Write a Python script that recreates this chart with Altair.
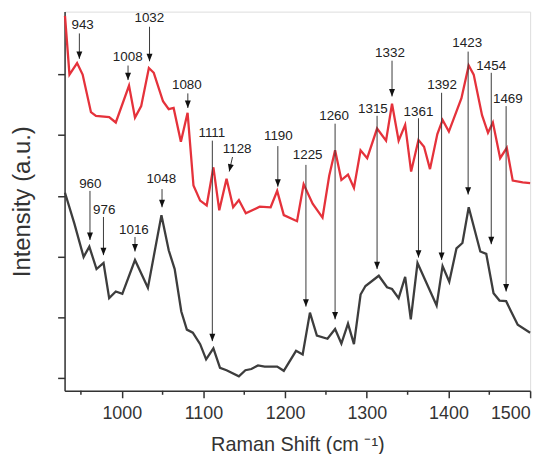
import altair as alt
import pandas as pd

# Red spectrum (top)
red_x = [930.5, 936.0, 945.3, 952.1, 962.3, 968.4, 984.6, 992.7, 1008.9, 1016.2, 1023.8, 1033.2,
         1039.2, 1050.5, 1057.5, 1063.5, 1072.4, 1080.6, 1087.8, 1096.0, 1104.0, 1112.2, 1119.4,
         1128.3, 1136.4, 1143.4, 1151.9, 1168.9, 1182.3, 1190.3, 1198.4, 1214.6, 1222.7, 1233.7,
         1245.8, 1254.0, 1261.2, 1268.9, 1277.0, 1284.3, 1292.4, 1300.5, 1312.6, 1323.6, 1330.9,
         1339.0, 1347.0, 1354.3, 1363.3, 1370.1, 1377.4, 1386.4, 1392.8, 1400.5, 1415.9, 1424.8,
         1430.9, 1441.1, 1448.4, 1454.4, 1463.3, 1471.4, 1478.7, 1490.9, 1500.0]
red_y = [5.97, 5.00, 5.19, 5.00, 4.38, 4.32, 4.30, 4.21, 4.82, 4.29, 4.48, 5.11,
         5.03, 4.56, 4.43, 4.45, 3.89, 4.37, 3.17, 2.92, 2.84, 3.47, 2.76,
         3.28, 2.81, 2.93, 2.71, 2.82, 2.81, 3.08, 2.68, 2.58, 3.19, 2.87,
         2.64, 3.33, 3.75, 3.26, 3.35, 3.13, 3.75, 3.62, 4.11, 3.91, 4.52,
         3.91, 4.17, 3.40, 3.92, 3.81, 3.44, 4.02, 4.25, 4.06, 4.61, 5.15,
         5.00, 4.33, 4.04, 4.21, 3.62, 3.79, 3.25, 3.22, 3.21]

# Dark grey spectrum (bottom)
gray_x = [930.5, 942.0, 953.3, 960.3, 969.1, 977.7, 984.6, 992.7, 1000.7, 1016.2, 1032.0, 1048.6,
          1057.5, 1064.8, 1072.9, 1079.7, 1087.0, 1096.0, 1103.3, 1112.2, 1120.3, 1128.3, 1143.4,
          1151.4, 1158.7, 1166.8, 1175.0, 1190.3, 1198.4, 1213.4, 1221.5, 1230.4, 1238.9, 1251.9,
          1261.2, 1268.9, 1277.0, 1284.3, 1292.4, 1298.4, 1314.7, 1324.8, 1330.9, 1339.0, 1347.0,
          1353.9, 1362.1, 1385.5, 1392.8, 1401.0, 1409.8, 1417.1, 1424.8, 1439.0, 1446.3, 1455.2,
          1462.5, 1470.6, 1476.7, 1484.8, 1500.0]
gray_y = [3.05, 2.54, 1.99, 2.16, 1.79, 1.89, 1.31, 1.42, 1.38, 1.94, 1.48, 2.68,
          2.10, 1.79, 1.09, 0.79, 0.74, 0.55, 0.30, 0.48, 0.16, 0.12, 0.02,
          0.12, 0.14, 0.20, 0.18, 0.18, 0.11, 0.44, 0.38, 1.07, 0.69, 0.64,
          0.80, 0.56, 0.89, 0.55, 1.37, 1.51, 1.68, 1.49, 1.46, 1.31, 1.66,
          0.96, 1.89, 1.19, 1.84, 1.58, 2.13, 2.22, 2.81, 2.08, 2.04, 1.39,
          1.27, 1.26, 1.09, 0.87, 0.74]

# Peak annotations
ann_label = ["943", "1008", "1032", "1080", "1111", "1128", "1190", "1225", "1260", "1315",
             "1332", "1361", "1392", "1423", "1454", "1469", "960", "976", "1016", "1048"]
ann_line_x = [948.1, 1007.7, 1034.0, 1080.9, 1110.9, 1135.6, 1191.1, 1225.5, 1261.2, 1312.6,
              1330.9, 1363.3, 1391.6, 1424.1, 1452.4, 1470.6, 961.1, 977.6, 1016.2, 1049.3]
ann_tip_x = [948.1, 1007.7, 1034.0, 1080.9, 1110.9, 1131.6, 1191.1, 1225.5, 1261.2, 1312.6,
             1330.9, 1363.3, 1391.6, 1424.1, 1452.4, 1470.6, 961.1, 977.6, 1016.2, 1049.3]
ann_text_x = [952.1, 1007.3, 1033.8, 1079.7, 1110.3, 1141.3, 1191.7, 1227.6, 1260.0, 1307.5,
              1328.4, 1363.3, 1392.2, 1423.0, 1452.4, 1472.7, 961.5, 978.5, 1014.9, 1048.4]
ann_text_y = [5.82, 5.29, 5.93, 4.82, 4.04, 3.77, 3.99, 3.67, 4.31, 4.43,
              5.35, 4.38, 4.83, 5.52, 5.15, 4.60, 3.20, 2.76, 2.43, 3.27]
ann_top = [5.68, 5.15, 5.79, 4.69, 3.91, 3.64, 3.82, 3.51, 4.19, 4.32,
           5.23, 4.28, 4.70, 5.38, 5.03, 4.48, 3.08, 2.65, 2.32, 3.11]
ann_tip = [5.26, 4.91, 5.22, 4.45, 0.60, 3.40, 3.15, 1.17, 0.96, 1.79,
           4.64, 1.98, 1.94, 3.02, 2.20, 1.42, 2.27, 2.02, 2.08, 2.81]
ann_angle = [0, 0, 0, 0, 0, 12.7, 0, 0, 0, 0, 0, 0, 0, 0, 0, 0, 0, 0, 0, 0]

major_ticks = [1000, 1100, 1200, 1300, 1400, 1500]
minor_ticks = [950, 1050, 1150, 1250, 1350, 1450]
y_ticks = [0, 1, 2, 3, 4, 5]

FONT = "Liberation Sans"
W, H = 469, 382

red_df = pd.DataFrame({"x": red_x, "y": red_y})
gray_df = pd.DataFrame({"x": gray_x, "y": gray_y})
ann_df = pd.DataFrame({"label": ann_label, "lx": ann_line_x, "tx": ann_tip_x,
                       "px": ann_text_x, "py": ann_text_y, "top": ann_top,
                       "tip": ann_tip, "ang": ann_angle})
minor_df = pd.DataFrame({"x": minor_ticks})

xscale = alt.Scale(domain=[930, 1500], nice=False, zero=False)
yscale = alt.Scale(domain=[-0.22, 6.04], nice=False, zero=False)

x_axis = alt.Axis(values=major_ticks, format="d", title="Raman Shift (cm ⁻¹)",
                  tickSize=7, tickWidth=1.5, tickColor="#333", domainColor="#333",
                  domainWidth=1.5, labelFont=FONT, labelFontSize=18, labelColor="#333",
                  labelPadding=7, labelFlush=True, labelOverlap=False, grid=False,
                  titleFont=FONT, titleFontSize=20, titleFontWeight="normal",
                  titleColor="#333", titleY=54, titleBaseline="middle")
y_axis = alt.Axis(values=y_ticks, labels=False, title="Intensity (a.u.)",
                  tickSize=7, tickWidth=1.5, tickColor="#333", domainColor="#333",
                  domainWidth=1.5, grid=False, titleFont=FONT, titleFontSize=24,
                  titleFontWeight="normal", titleColor="#333", titleX=-42, titleY=191,
                  titleAngle=270, titleAlign="center", titleBaseline="middle")

base_x = alt.X("x:Q", scale=xscale, axis=x_axis)
base_y = alt.Y("y:Q", scale=yscale, axis=y_axis)

red_line = alt.Chart(red_df).mark_line(color="#e5323b", strokeWidth=2.3).encode(
    x=base_x, y=base_y, order="x:Q")
gray_line = alt.Chart(gray_df).mark_line(color="#3d3d3d", strokeWidth=2.3).encode(
    x="x:Q", y="y:Q", order="x:Q")

minor = alt.Chart(minor_df).mark_rule(color="#333", strokeWidth=1.5).encode(
    x="x:Q", y=alt.value(H), y2=alt.value(H + 4))

rules = alt.Chart(ann_df).mark_rule(color="#3a3a3a", strokeWidth=1).encode(
    x="lx:Q", x2="tx:Q", y="top:Q", y2="tip:Q")
heads = alt.Chart(ann_df).mark_point(
    shape="M-0.8,-2L0.8,-2L0,0Z", filled=True, size=56, color="#111", opacity=1,
    strokeWidth=0).encode(
    x="tx:Q", y="tip:Q", angle=alt.Angle("ang:Q", scale=None))
labels = alt.Chart(ann_df).mark_text(font=FONT, fontSize=13.5, color="#222",
                                     align="center", baseline="middle").encode(
    x="px:Q", y="py:Q", text="label:N")

chart = alt.layer(red_line, gray_line, minor, rules, heads, labels).properties(
    width=W, height=H,
    autosize=alt.AutoSizeParams(type="none"),
    padding={"left": 57, "top": 2, "right": 18, "bottom": 62},
).configure_view(stroke=None).configure(background="white")

chart.save("out.html", embed_options={"renderer": "svg", "actions": False})
